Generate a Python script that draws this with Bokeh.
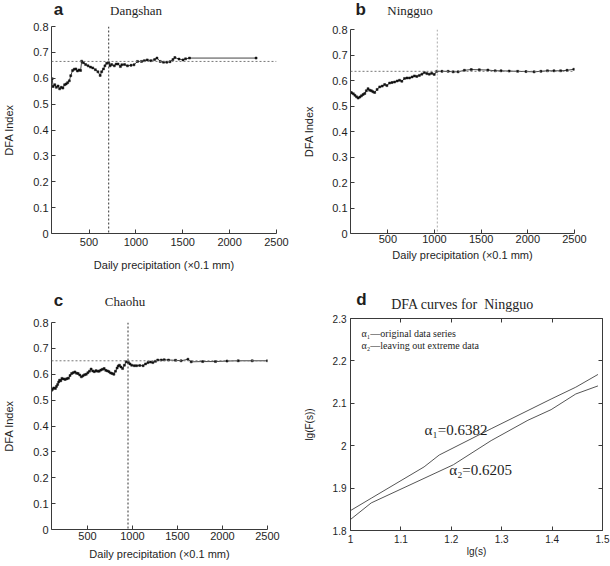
from bokeh.plotting import figure
from bokeh.models import Range1d, FixedTicker, CustomJSTickFormatter, Span, Label, LinearAxis
from bokeh.layouts import column, row
from bokeh.core.properties import value
from bokeh.embed import file_html
from bokeh.resources import INLINE

# ---------------- data ----------------
# panel a: Dangshan
a_x = [107, 117, 135, 152, 170, 187, 205, 221, 240, 256, 272, 290, 305, 325, 342, 360, 377, 394, 410,
       422, 440, 464, 490, 516, 540, 568, 595, 619, 635, 654, 670, 689, 710, 725, 741, 770, 790, 810,
       835, 850, 879, 910, 948, 980, 1017, 1060, 1090, 1121, 1160, 1200, 1225, 1260, 1295, 1330, 1364,
       1395, 1416, 1460, 1503, 1530, 1572, 2282]
a_y = [0.598, 0.568, 0.575, 0.565, 0.570, 0.559, 0.565, 0.562, 0.575, 0.578, 0.583, 0.590, 0.610, 0.630,
       0.635, 0.636, 0.628, 0.632, 0.630, 0.666, 0.660, 0.653, 0.648, 0.643, 0.640, 0.633, 0.625, 0.611,
       0.625, 0.636, 0.648, 0.658, 0.660, 0.648, 0.653, 0.648, 0.655, 0.655, 0.645, 0.652, 0.653, 0.648,
       0.650, 0.652, 0.665, 0.665, 0.668, 0.671, 0.668, 0.672, 0.678, 0.665, 0.662, 0.662, 0.664, 0.672,
       0.680, 0.674, 0.671, 0.675, 0.678, 0.678]
a_hline = 0.665
a_vline = 710

# panel b: Ningguo
b_x = [100, 111, 130, 147, 165, 182, 200, 217, 235, 253, 270, 288, 305, 323, 340, 359, 385, 413, 440,
       466, 490, 519, 545, 572, 600, 625, 650, 679, 705, 732, 760, 785, 810, 838, 865, 891, 918, 944,
       970, 997, 1025, 1080, 1146, 1200, 1253, 1320, 1394, 1480, 1572, 1650, 1713, 1800, 1891, 1980,
       2067, 2140, 2210, 2280, 2351, 2420, 2493]
b_y = [0.553, 0.552, 0.548, 0.542, 0.536, 0.531, 0.535, 0.540, 0.545, 0.549, 0.560, 0.568, 0.562, 0.560,
       0.556, 0.553, 0.565, 0.575, 0.578, 0.584, 0.580, 0.590, 0.592, 0.594, 0.598, 0.601, 0.597, 0.608,
       0.610, 0.610, 0.614, 0.618, 0.616, 0.620, 0.625, 0.631, 0.627, 0.625, 0.628, 0.624, 0.636, 0.636,
       0.636, 0.634, 0.634, 0.640, 0.643, 0.642, 0.641, 0.638, 0.638, 0.637, 0.636, 0.635, 0.634, 0.636,
       0.638, 0.638, 0.638, 0.640, 0.644]
b_hline = 0.636
b_vline = 1030

# panel c: Chaohu
c_x = [100, 112, 125, 143, 155, 168, 180, 190, 203, 216, 234, 252, 270, 288, 306, 324, 342, 360, 378,
       396, 414, 432, 450, 468, 486, 504, 522, 540, 558, 576, 594, 612, 630, 648, 666, 685, 703, 721,
       739, 757, 775, 793, 811, 829, 842, 855, 872, 890, 910, 930, 955, 972, 991, 1020, 1045, 1080,
       1118, 1145, 1172, 1200, 1226, 1255, 1280, 1320, 1352, 1400, 1478, 1540, 1616, 1652, 1780, 1922,
       2050, 2175, 2330, 2500]
c_y = [0.538, 0.542, 0.547, 0.545, 0.553, 0.560, 0.570, 0.577, 0.575, 0.584, 0.582, 0.580, 0.583, 0.585,
       0.595, 0.603, 0.606, 0.609, 0.604, 0.603, 0.597, 0.590, 0.594, 0.598, 0.600, 0.606, 0.612, 0.620,
       0.613, 0.610, 0.614, 0.612, 0.612, 0.616, 0.619, 0.622, 0.615, 0.613, 0.610, 0.605, 0.603, 0.600,
       0.612, 0.624, 0.632, 0.635, 0.628, 0.622, 0.635, 0.648, 0.645, 0.640, 0.635, 0.633, 0.633, 0.634,
       0.633, 0.640, 0.645, 0.647, 0.645, 0.650, 0.655, 0.655, 0.656, 0.655, 0.654, 0.652, 0.658, 0.648,
       0.649, 0.649, 0.651, 0.652, 0.652, 0.652]
c_hline = 0.652
c_vline = 950

# panel d: DFA curves for Ningguo
d_x1 = [1.0, 1.041, 1.146, 1.176, 1.279, 1.398, 1.447, 1.491]
d_y1 = [1.847, 1.876, 1.950, 1.978, 2.040, 2.110, 2.138, 2.168]
d_x2 = [1.0, 1.041, 1.204, 1.279, 1.352, 1.398, 1.447, 1.491]
d_y2 = [1.826, 1.865, 1.955, 2.012, 2.060, 2.085, 2.122, 2.141]

prec_ticks = [500, 1000, 1500, 2000, 2500]
dfa_ticks = [0, 0.1, 0.2, 0.3, 0.4, 0.5, 0.6, 0.7, 0.8]
lgs_ticks = [1, 1.1, 1.2, 1.3, 1.4, 1.5]
lgf_ticks = [1.8, 1.9, 2.0, 2.1, 2.2, 2.3]

# ---------------- style ----------------
SANS = "Liberation Sans"
SERIF = "Liberation Serif"
AX = "#3a3a3a"
TXT = "#1e1e1e"


def fmt():
    return CustomJSTickFormatter(code="return (Math.round(tick*100)/100).toString();")


def style_axis(ax, ticks, size="11px", lab_size="11px", standoff=3, label_standoff=5):
    ax.ticker = FixedTicker(ticks=ticks)
    ax.formatter = fmt()
    ax.major_tick_in = 4
    ax.major_tick_out = 0
    ax.minor_tick_line_color = None
    ax.axis_line_color = AX
    ax.major_tick_line_color = AX
    ax.major_label_text_font = SANS
    ax.major_label_text_font_size = size
    ax.major_label_text_color = TXT
    ax.major_label_standoff = standoff
    ax.axis_label_text_font = SANS
    ax.axis_label_text_font_style = "normal"
    ax.axis_label_text_font_size = lab_size
    ax.axis_label_text_color = TXT
    ax.axis_label_standoff = label_standoff


def make_fig(w, h, bl, br, bt, bb, xr, yr):
    p = figure(width=w, height=h, x_range=Range1d(*xr), y_range=Range1d(*yr),
               output_backend="svg", toolbar_location=None,
               min_border_left=bl, min_border_right=br, min_border_top=bt, min_border_bottom=bb)
    p.xgrid.visible = False
    p.ygrid.visible = False
    p.outline_line_color = None
    p.background_fill_color = "white"
    p.border_fill_color = "white"
    return p


def header(w, h, items):
    # a strip above each panel holding the panel letter and the panel title
    p = figure(width=w, height=h, x_range=Range1d(0, w), y_range=Range1d(h, 0),
               output_backend="svg", toolbar_location=None, min_border=0,
               x_axis_location=None, y_axis_location=None)
    p.xgrid.visible = False
    p.ygrid.visible = False
    p.outline_line_color = None
    for (x, y, t, font, size, style) in items:
        p.text(x=[x], y=[y], text=[t], text_font=value(font), text_font_size=value(size),
               text_font_style=value(style), text_color=TXT, text_align="left",
               text_baseline="middle")
    return p


def dfa_panel(geom, xs, ys, hline, vline, vcolor, ylab_standoff, xlab_standoff, xtick_standoff):
    w, h, bl, br, bt, bb, xr, yr = geom
    p = make_fig(w, h, bl, br, bt, bb, xr, yr)
    style_axis(p.xaxis[0], prec_ticks, standoff=xtick_standoff, label_standoff=xlab_standoff)
    style_axis(p.yaxis[0], dfa_ticks, standoff=3, label_standoff=ylab_standoff)
    p.xaxis.axis_label = "Daily precipitation (\u00d70.1 mm)"
    p.yaxis.axis_label = "DFA Index"
    p.add_layout(Span(location=hline, dimension="width", line_color="#777777",
                      line_dash="2 2", line_width=1))
    p.add_layout(Span(location=vline, dimension="height", line_color=vcolor,
                      line_dash="2 2", line_width=1))
    p.line(xs, ys, line_color="#444444", line_width=1)
    p.scatter(xs, ys, marker="square", size=2, fill_color="#111111", line_color="#111111",
              line_width=0.5)
    return p


XR = (100, 2500)
YR = (0, 0.8)

# row 1: headers 18 px, panels 272 px
ha = header(300, 18, [(3, 9, "a", SANS, "17px", "bold"),
                      (78, 10, "Dangshan", SERIF, "13px", "normal")])
hb = header(310, 18, [(7, 9, "b", SANS, "17px", "bold"),
                      (51, 10, "Ningguo", SERIF, "13px", "normal")])
pa = dfa_panel((300, 272, 45, 24, 8, 57, XR, YR), a_x, a_y, a_hline, a_vline, "#333333", 15, 10, 4)
pb = dfa_panel((310, 272, 48, 36, 11, 57, XR, YR), b_x, b_y, b_hline, b_vline, "#aaaaaa", 14, 3, 1)

# row 2: headers 22 px, panels 254 px
hc = header(300, 22, [(3, 10, "c", SANS, "17px", "bold"),
                      (74, 11, "Chaohu", SERIF, "13px", "normal")])
hd = header(310, 22, [(7, 9, "d", SANS, "17px", "bold"),
                      (50, 14, "DFA curves for\u00a0 Ningguo", SERIF, "14px", "normal")])
pc = dfa_panel((300, 254, 45, 33, 10, 37, XR, YR), c_x, c_y, c_hline, c_vline, "#333333", 15, 5, 2)

pd = make_fig(310, 254, 47, 8, 6, 36, (1.0, 1.5), (1.8, 2.3))
style_axis(pd.xaxis[0], lgs_ticks, size="10px", lab_size="10px", standoff=4, label_standoff=0)
style_axis(pd.yaxis[0], lgf_ticks, size="10px", lab_size="10px", standoff=4, label_standoff=15)
pd.xaxis.axis_label = "lg(s)"
pd.yaxis.axis_label = "lg(F(s))"
for loc, ticks in (("right", lgf_ticks), ("above", lgs_ticks)):
    ax = LinearAxis()
    style_axis(ax, ticks)
    ax.major_label_text_font_size = "1px"
    ax.major_label_text_color = None
    ax.major_label_standoff = 0
    pd.add_layout(ax, loc)
pd.line(d_x1, d_y1, line_color="#555555", line_width=1)
pd.line(d_x2, d_y2, line_color="#555555", line_width=1)
for yy, t in ((2.265, "\u03b1\u2081\u2014original data series"),
              (2.237, "\u03b1\u2082\u2014leaving out extreme data")):
    pd.add_layout(Label(x=1.022, y=yy, text=t, text_font=SERIF, text_font_size="10px",
                        text_color=TXT, text_baseline="middle"))
pd.add_layout(Label(x=1.147, y=2.036, text="\u03b1\u2081=0.6382", text_font=SERIF,
                    text_font_size="15px", text_color=TXT, text_baseline="middle"))
pd.add_layout(Label(x=1.196, y=1.942, text="\u03b1\u2082=0.6205", text_font=SERIF,
                    text_font_size="15px", text_color=TXT, text_baseline="middle"))

layout = column(row(column(ha, pa), column(hb, pb)), row(column(hc, pc), column(hd, pd)))
open("out.html", "w").write(file_html(layout, INLINE))
